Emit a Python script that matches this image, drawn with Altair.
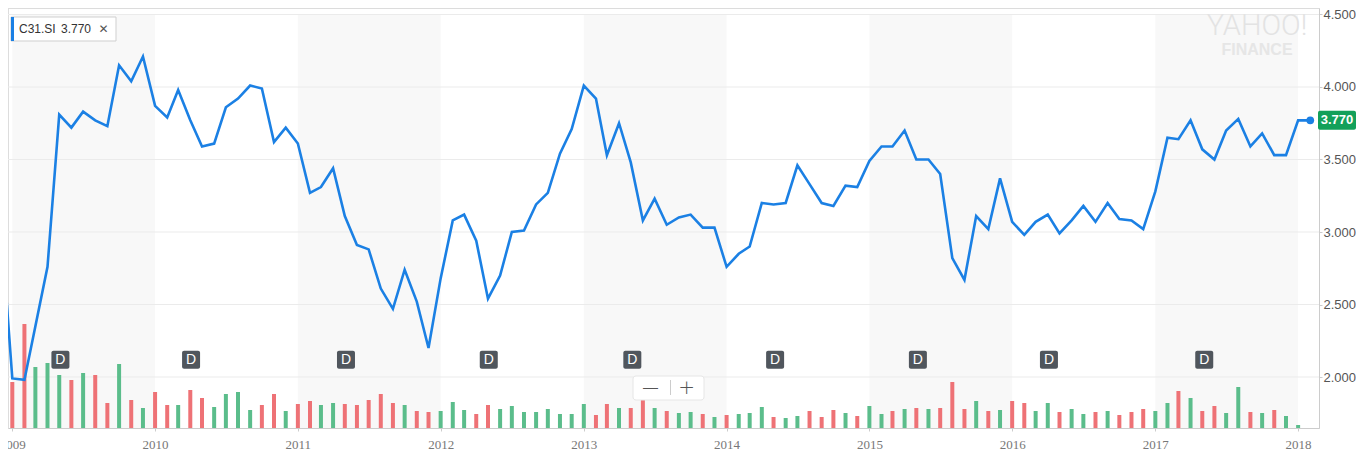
import altair as alt
import pandas as pd

# ---------------- data ----------------
prices = [
    3.13,
    1.99, 1.98, 2.35, 2.76, 3.81, 3.72, 3.83, 3.77, 3.73, 4.15, 4.04, 4.21,
    3.87, 3.79, 3.98, 3.77, 3.59, 3.61, 3.86, 3.92, 4.01, 3.99, 3.62, 3.72,
    3.61, 3.27, 3.31, 3.44, 3.11, 2.91, 2.88, 2.61, 2.47, 2.74, 2.52, 2.20,
    2.68, 3.08, 3.12, 2.94, 2.54, 2.70, 3.00, 3.01, 3.19, 3.27, 3.54, 3.71,
    4.01, 3.92, 3.53, 3.75, 3.48, 3.08, 3.23, 3.05, 3.10, 3.12, 3.03, 3.03,
    2.76, 2.85, 2.90, 3.20, 3.19, 3.20, 3.46, 3.33, 3.20, 3.18, 3.32, 3.31,
    3.49, 3.59, 3.59, 3.70, 3.50, 3.50, 3.40, 2.82, 2.67, 3.11, 3.02, 3.37,
    3.07, 2.98, 3.07, 3.12, 2.99, 3.08, 3.18, 3.07, 3.20, 3.09, 3.08, 3.02,
    3.28, 3.65, 3.64, 3.77, 3.57, 3.50, 3.70, 3.78, 3.59, 3.68, 3.53, 3.53,
    3.77, 3.77,
]
price_dates = pd.date_range("2008-12-01", "2018-02-01", freq="MS").strftime("%Y-%m-%d").tolist()

volumes = [
    46, 104, 61, 65, 53, 48, 55, 53, 25, 64, 28, 20,
    36, 23, 23, 38, 30, 21, 34, 36, 18, 23, 34, 17,
    24, 27, 23, 25, 24, 23, 28, 34, 25, 23, 17, 16,
    17, 26, 18, 14, 23, 19, 22, 16, 16, 19, 14, 14,
    24, 13, 24, 20, 20, 32, 20, 17, 15, 16, 14, 11,
    13, 14, 15, 21, 11, 10, 12, 17, 11, 18, 15, 12,
    22, 14, 17, 19, 20, 19, 20, 46, 19, 27, 17, 18,
    27, 25, 17, 25, 16, 19, 14, 16, 17, 13, 16, 19,
    17, 25, 37, 30, 17, 22, 15, 41, 16, 15, 18, 12,
    3,
]
vol_dirs = list(
    "rrgggrgrrgrg"
    "rrgrrggggrrg"
    "rrggrrrrrgrr"
    "gggrrggggggg"
    "grrgrrgrggrg"
    "rgggrggrrrgr"
    "ggrgrgrrrgrg"
    "rrggrggrgrrr"
    "ggrgrrggrgrg"
    "g"
)
vol_dates = pd.date_range("2009-01-01", "2018-01-01", freq="MS").strftime("%Y-%m-%d").tolist()

dividend_dates = ["2009-05-04", "2010-04-03", "2011-05-04", "2012-05-03", "2013-05-05",
                  "2014-05-05", "2015-05-05", "2016-04-04", "2017-05-06"]

band_years = [2009, 2011, 2013, 2015, 2017]
price_ticks = [2.0, 2.5, 3.0, 3.5, 4.0, 4.5]
year_ticks = list(range(2009, 2019))

symbol = "C31.SI"
last_price = prices[-1]

# ---------------- styling ----------------
BLUE = "#1b80e4"
RED = "#ee7276"
GREEN = "#5bbd8b"
TAG_GREEN = "#13a05a"
BAND = "#f8f8f8"

W, H = 1311, 420
P_DOMAIN = [1.6483, 4.5448]
V_DOMAIN = [0, H]

price_df = pd.DataFrame({"date": price_dates, "close": prices})
vol_df = pd.DataFrame({"date": vol_dates, "volume": volumes,
                       "dir": ["up" if d == "g" else "down" for d in vol_dirs]})
band_df = pd.DataFrame({"start": [f"{y}-01-01" for y in band_years],
                        "end": [f"{y + 1}-01-01" for y in band_years],
                        "top": [4.5] * len(band_years),
                        "bottom": [P_DOMAIN[0]] * len(band_years)})
grid_df = pd.DataFrame({"level": price_ticks})
div_df = pd.DataFrame({"date": dividend_dates, "hi": 2.181, "lo": 2.057, "mid": 2.119, "t": "D"})
last_df = price_df.tail(1).assign(hi=last_price + 0.0655, lo=last_price - 0.0655,
                                  label=f"{last_price:.3f}")
one = pd.DataFrame({"a": [0]})

xscale = alt.Scale(type="utc", domain=[
    alt.DateTime(year=2009, month=1, date=2, hours=19, utc=True),
    alt.DateTime(year=2018, month=2, date=10, hours=14, utc=True)])
xaxis = alt.Axis(values=[alt.DateTime(year=y, month=1, date=1, utc=True) for y in year_ticks],
                 format="%Y", labelFont="Liberation Serif", labelFontSize=13,
                 labelColor="#777777", tickColor="#cccccc", tickSize=3,
                 domainColor="#cccccc", grid=False, labelPadding=7, labelFlush=False)
pscale = alt.Scale(domain=P_DOMAIN, nice=False, zero=False)
yaxis = alt.Axis(orient="right", values=price_ticks, format=".3f", labelFont="Liberation Sans",
                 labelFontSize=13, labelColor="#555555", tickColor="#cccccc", tickSize=3,
                 domainColor="#cccccc", grid=False, labelPadding=1)


def X(field):
    return alt.X(f"{field}:T", scale=xscale, axis=xaxis, title=None)


# ---------------- background layers ----------------
bands = alt.Chart(band_df).mark_rect(color=BAND).encode(
    x=X("start"), x2="end:T",
    y=alt.Y("top:Q", scale=pscale, axis=None), y2="bottom:Q")
grid = alt.Chart(grid_df).mark_rule(color="#ebebeb", strokeWidth=1).encode(
    y=alt.Y("level:Q", scale=pscale, axis=None))
top_line = alt.Chart(one).mark_rule(color="#dcdcdc", strokeWidth=1).encode(
    y=alt.value(0.5))
bg = alt.layer(bands, grid, top_line)

# ---------------- volume ----------------
vol = alt.Chart(vol_df).mark_bar(size=4).encode(
    x=X("date"),
    y=alt.Y("volume:Q", scale=alt.Scale(domain=V_DOMAIN, nice=False), axis=None),
    color=alt.Color("dir:N", scale=alt.Scale(domain=["down", "up"], range=[RED, GREEN]), legend=None))

# ---------------- price & annotations ----------------
line = alt.Chart(price_df).mark_line(color=BLUE, strokeWidth=2.6, clip=True).encode(
    x=X("date"), y=alt.Y("close:Q", scale=pscale, axis=yaxis, title=None))
dot = alt.Chart(last_df).mark_circle(color=BLUE, size=60, opacity=1).encode(
    x=X("date"), y=alt.Y("close:Q", scale=pscale, axis=yaxis, title=None))
tag = alt.Chart(last_df).mark_rect(color=TAG_GREEN, cornerRadius=2).encode(
    x=alt.value(W - 1), x2=alt.value(W + 37),
    y=alt.Y("hi:Q", scale=pscale, axis=yaxis, title=None), y2="lo:Q")
tag_text = alt.Chart(last_df).mark_text(color="white", font="Liberation Sans", fontSize=13,
                                        fontWeight="bold", align="center", baseline="middle").encode(
    x=alt.value(W + 18), y=alt.Y("close:Q", scale=pscale, axis=yaxis, title=None), text="label:N")
div_box = alt.Chart(div_df).mark_bar(size=18, color="#50565d", cornerRadius=2).encode(
    x=X("date"), y=alt.Y("hi:Q", scale=pscale, axis=yaxis, title=None), y2="lo:Q")
div_text = alt.Chart(div_df).mark_text(color="white", font="Liberation Sans", fontSize=14,
                                       baseline="middle", dy=0.5).encode(
    x=X("date"), y=alt.Y("mid:Q", scale=pscale, axis=yaxis, title=None), text="t:N")

# legend chip (top-left)
chip = alt.Chart(one).mark_rect(fill="white", stroke="#cfcfcf", strokeWidth=1).encode(
    x=alt.value(3), x2=alt.value(108), y=alt.value(9), y2=alt.value(33))
chip_bar = alt.Chart(one).mark_rect(fill=BLUE).encode(
    x=alt.value(3), x2=alt.value(6), y=alt.value(9), y2=alt.value(33))
chip_sym = alt.Chart(one).mark_text(text=symbol, align="left", baseline="middle",
                                    font="Liberation Sans", fontSize=12, color="#333333").encode(
    x=alt.value(11), y=alt.value(21))
chip_val = alt.Chart(one).mark_text(text=f"{last_price:.3f}", align="left", baseline="middle",
                                    font="Liberation Sans", fontSize=12, color="#333333").encode(
    x=alt.value(53), y=alt.value(21))
chip_x = alt.Chart(one).mark_text(text="✕", align="center", baseline="middle",
                                  font="DejaVu Sans", fontSize=12, color="#555555").encode(
    x=alt.value(95.5), y=alt.value(21))

# watermark
wm1 = alt.Chart(one).mark_text(text="YAHOO!", align="center", baseline="middle", font="Roboto",
                               fontWeight=300, fontSize=29, color="#e3e3e3").encode(
    x=alt.value(W - 62), y=alt.value(18))
wm2 = alt.Chart(one).mark_text(text="FINANCE", align="center", baseline="middle",
                               font="Liberation Sans", fontWeight="bold", fontSize=16,
                               color="#e6e6e6").encode(
    x=alt.value(W - 62), y=alt.value(42))

# zoom control
zbox = alt.Chart(one).mark_rect(fill="white", stroke="#e6e6e6", strokeWidth=1, cornerRadius=3).encode(
    x=alt.value(625), x2=alt.value(696), y=alt.value(368), y2=alt.value(392))
zsep = alt.Chart(one).mark_rule(color="#cccccc").encode(
    x=alt.value(662.5), y=alt.value(372), y2=alt.value(387))
zminus = alt.Chart(one).mark_text(text="—", align="center", baseline="middle", font="Liberation Sans",
                                  fontSize=15, color="#555555").encode(
    x=alt.value(642.5), y=alt.value(379))
zplus = alt.Chart(one).mark_text(text="+", align="center", baseline="middle", font="DejaVu Sans",
                                 fontWeight=300, fontSize=20, color="#555555").encode(
    x=alt.value(678.5), y=alt.value(380))

fg = alt.layer(line, div_box, div_text, dot, tag, tag_text)
deco = alt.layer(wm1, wm2, chip, chip_bar, chip_sym, chip_val, chip_x, zbox, zsep, zminus, zplus)

chart = alt.layer(bg, vol, fg, deco).resolve_scale(y="independent").properties(
    width=W, height=H,
    autosize=alt.AutoSizeParams(type="none"),
    padding={"left": 0, "top": 0, "right": 37, "bottom": 22},
).configure_view(stroke=None).configure(background="white")

chart.save("out.html", embed_options={"renderer": "svg", "actions": False})
